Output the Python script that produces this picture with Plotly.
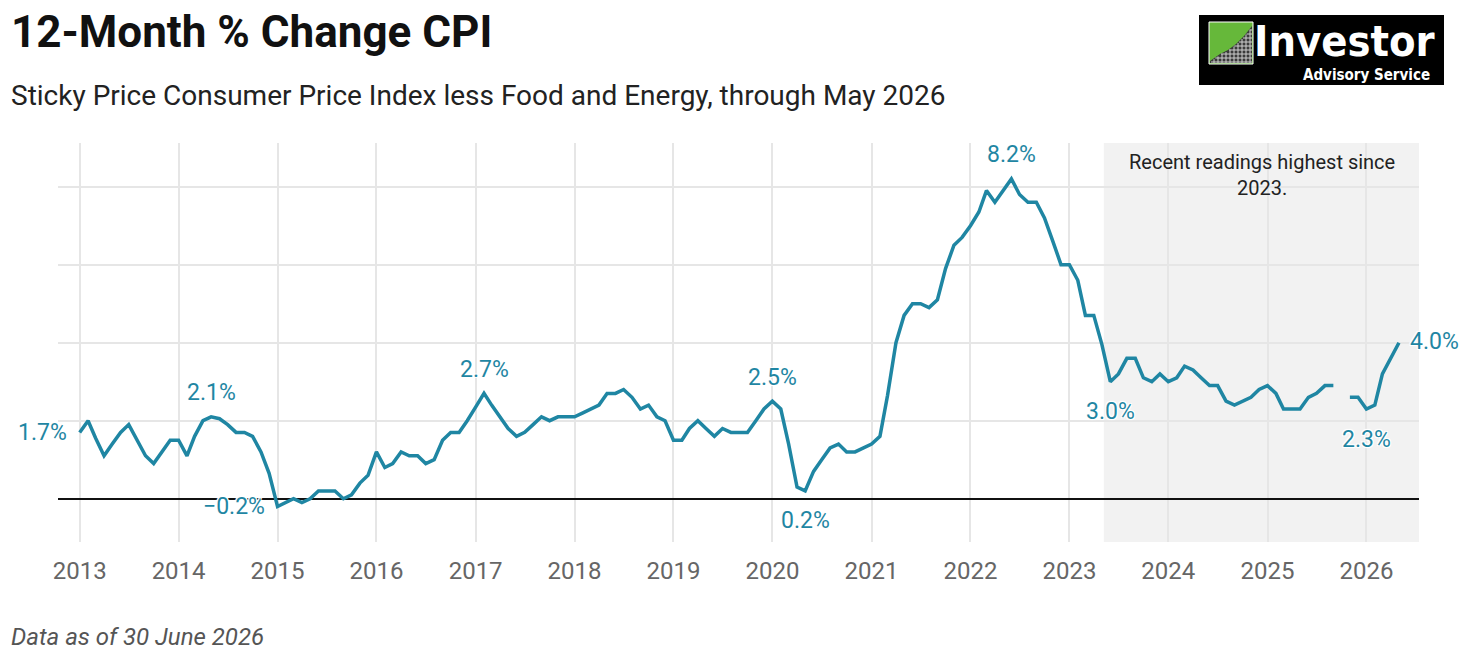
import pandas as pd
import plotly.graph_objects as go

# ---------------- data ----------------
months = pd.date_range("2013-01-01", "2026-05-01", freq="MS").strftime("%Y-%m-%d").tolist()

v2013 = [1.7, 2.0, 1.55, 1.1, 1.4, 1.7, 1.9, 1.5, 1.1, 0.9, 1.2, 1.5]
v2014 = [1.5, 1.1, 1.6, 2.0, 2.1, 2.05, 1.9, 1.7, 1.7, 1.6, 1.2, 0.65]
v2015 = [-0.2, -0.1, 0.0, -0.1, 0.0, 0.2, 0.2, 0.2, 0.0, 0.1, 0.4, 0.6]
v2016 = [1.2, 0.8, 0.9, 1.2, 1.1, 1.1, 0.9, 1.0, 1.5, 1.7, 1.7, 2.0]
v2017 = [2.35, 2.7, 2.4, 2.1, 1.8, 1.6, 1.7, 1.9, 2.1, 2.0, 2.1, 2.1]
v2018 = [2.1, 2.2, 2.3, 2.4, 2.7, 2.7, 2.8, 2.6, 2.3, 2.4, 2.1, 2.0]
v2019 = [1.5, 1.5, 1.8, 2.0, 1.8, 1.6, 1.8, 1.7, 1.7, 1.7, 2.0, 2.3]
v2020 = [2.5, 2.3, 1.4, 0.3, 0.2, 0.7, 1.0, 1.3, 1.4, 1.2, 1.2, 1.3]
v2021 = [1.4, 1.6, 2.65, 4.0, 4.7, 5.0, 5.0, 4.9, 5.1, 5.9, 6.5, 6.7]
v2022 = [7.0, 7.35, 7.9, 7.6, 7.9, 8.2, 7.8, 7.6, 7.6, 7.2, 6.6, 6.0]
v2023 = [6.0, 5.6, 4.7, 4.7, 3.95, 3.0, 3.2, 3.6, 3.6, 3.1, 3.0, 3.2]
v2024 = [3.0, 3.1, 3.4, 3.3, 3.1, 2.9, 2.9, 2.5, 2.4, 2.5, 2.6, 2.8]
v2025 = [2.9, 2.7, 2.3, 2.3, 2.3, 2.6, 2.7, 2.9, 2.9, None, 2.6, 2.6]
v2026 = [2.3, 2.4, 3.2, 3.6, 4.0]

values = (v2013 + v2014 + v2015 + v2016 + v2017 + v2018 + v2019 + v2020
          + v2021 + v2022 + v2023 + v2024 + v2025 + v2026)

label_dates = ["2013-01-01", "2014-05-01", "2015-01-01", "2017-02-01", "2020-01-01",
               "2020-05-01", "2022-06-01", "2023-06-01", "2026-01-01", "2026-05-01"]
label_texts = ["1.7%", "2.1%", "\u22120.2%", "2.7%", "2.5%", "0.2%", "8.2%", "3.0%", "2.3%", "4.0%"]
label_pos = ["left", "above", "left", "above", "above", "below", "above", "below", "below", "right"]

year_ticks = [f"{y}-01-01" for y in range(2013, 2027)]
year_labels = [str(y) for y in range(2013, 2027)]

shade_start = "2023-05-08"
note_text = "Recent readings highest since<br>2023."

# ---------------- layout helpers ----------------
W, H = 1463, 666
ML, MR, MT, MB = 58, 44, 143, 124
PW, PH = W - ML - MR, H - MT - MB


def px(x):
    return (x - ML) / PW


def py(y):
    return (H - MB - y) / PH


LINE = "#1f86a3"
FONT = "Roboto"
halo = "-1px -1px 0 #fff, 1px -1px 0 #fff, -1px 1px 0 #fff, 1px 1px 0 #fff, 0 0 3px #fff"

fig = go.Figure()
fig.add_trace(go.Scatter(
    x=months, y=values, mode="lines",
    line=dict(color=LINE, width=3.5),
    connectgaps=False, hoverinfo="x+y", showlegend=False,
))

annotations = []
val_by_date = dict(zip(months, values))
for d, t, pos in zip(label_dates, label_texts, label_pos):
    a = dict(x=d, y=val_by_date[d], xref="x", yref="y", text=t, showarrow=False,
             font=dict(family=FONT, size=23, color=LINE, shadow=halo))
    if pos == "above":
        a.update(yshift=24, xanchor="center", yanchor="middle")
    elif pos == "below":
        a.update(yshift=-30, xanchor="center", yanchor="middle")
    elif pos == "left":
        a.update(xshift=-11, xanchor="right", yanchor="middle")
    else:
        a.update(xshift=9, yshift=1, xanchor="left", yanchor="middle")
    annotations.append(a)

# note in shaded region
annotations.append(dict(x=px(1262), y=py(175), xref="paper", yref="paper", text=note_text,
                        showarrow=False, xanchor="center", yanchor="middle", align="center",
                        font=dict(family=FONT, size=20, color="#222222")))

# titles
annotations.append(dict(x=px(9), y=py(32), xref="paper", yref="paper",
                        text="12-Month % Change CPI", showarrow=False,
                        xanchor="left", yanchor="middle",
                        font=dict(family=FONT, size=44, color="#111111", weight=700)))
annotations.append(dict(x=px(9), y=py(95), xref="paper", yref="paper",
                        text="Sticky Price Consumer Price Index less Food and Energy, through May 2026",
                        showarrow=False, xanchor="left", yanchor="middle",
                        font=dict(family=FONT, size=28, color="#222222")))
annotations.append(dict(x=px(9), y=py(637), xref="paper", yref="paper",
                        text="Data as of 30 June 2026", showarrow=False,
                        xanchor="left", yanchor="middle",
                        font=dict(family=FONT, size=24, color="#555555", style="italic")))

# logo text
annotations.append(dict(x=px(1344), y=py(41), xref="paper", yref="paper", text="Investor",
                        showarrow=False, xanchor="center", yanchor="middle",
                        font=dict(family="Liberation Sans Narrow, DejaVu Sans Condensed, Roboto",
                                  size=43, color="#ffffff", weight=700)))
annotations.append(dict(x=px(1366), y=py(75), xref="paper", yref="paper", text="Advisory Service",
                        showarrow=False, xanchor="center", yanchor="middle",
                        font=dict(family="Liberation Sans Narrow, DejaVu Sans Condensed, Roboto",
                                  size=15, color="#ffffff", weight=700)))

shapes = [
    dict(type="rect", xref="x", yref="paper", x0=shade_start, x1="2026-07-20", y0=0, y1=1,
         fillcolor="#f2f2f2", line=dict(width=0), layer="below"),
    # logo background
    dict(type="rect", xref="paper", yref="paper", x0=px(1199), x1=px(1444), y0=py(85), y1=py(15),
         fillcolor="#000000", line=dict(width=0), layer="above"),
    dict(type="rect", xref="paper", yref="paper", x0=px(1209), x1=px(1253), y0=py(64), y1=py(22),
         fillcolor="#66b83a", line=dict(color="#ffffff", width=1), layer="above"),
]
# grey graph-paper part of logo icon
bx = [1210, 1220, 1228, 1236, 1244, 1252]
by = [61, 54, 50, 44, 36, 26]
path = "M " + " L ".join(f"{px(x)},{py(y)}" for x, y in zip(bx, by))
path += f" L {px(1252)},{py(63)} L {px(1210)},{py(63)} Z"
shapes.append(dict(type="path", xref="paper", yref="paper", path=path,
                   fillcolor="#3a3a3a", line=dict(width=0), layer="above"))


def boundary_y(x):
    for i in range(len(bx) - 1):
        if bx[i] <= x <= bx[i + 1]:
            t = (x - bx[i]) / (bx[i + 1] - bx[i])
            return by[i] + t * (by[i + 1] - by[i])
    return by[-1]


def boundary_x(y):
    for i in range(len(by) - 1):
        if by[i + 1] <= y <= by[i]:
            t = (by[i] - y) / (by[i] - by[i + 1])
            return bx[i] + t * (bx[i + 1] - bx[i])
    return bx[0]


for gx in range(1214, 1252, 4):
    shapes.append(dict(type="line", xref="paper", yref="paper", x0=px(gx), x1=px(gx),
                       y0=py(boundary_y(gx) + 1), y1=py(63),
                       line=dict(color="#cfcfcf", width=1), layer="above"))
for gy in range(30, 63, 4):
    shapes.append(dict(type="line", xref="paper", yref="paper", x0=px(boundary_x(gy) + 1), x1=px(1252),
                       y0=py(gy), y1=py(gy),
                       line=dict(color="#cfcfcf", width=1), layer="above"))

fig.update_layout(
    width=W, height=H,
    margin=dict(l=ML, r=MR, t=MT, b=MB, pad=0),
    paper_bgcolor="#ffffff", plot_bgcolor="#ffffff",
    font=dict(family=FONT),
    annotations=annotations, shapes=shapes,
    showlegend=False,
)
fig.update_xaxes(
    type="date", range=["2012-10-13", "2026-07-14"],
    tickvals=year_ticks, ticktext=year_labels,
    showgrid=True, gridcolor="#e6e6e6", gridwidth=2,
    ticks="", ticklabelstandoff=12,
    tickfont=dict(family=FONT, size=24, color="#666666"),
    showline=False, zeroline=False, fixedrange=True,
)
fig.update_yaxes(
    range=[-1.11, 9.12], tickvals=[2, 4, 6, 8], showticklabels=False,
    showgrid=True, gridcolor="#e6e6e6", gridwidth=2,
    zeroline=True, zerolinecolor="#111111", zerolinewidth=2,
    showline=False, fixedrange=True,
)

fig.write_html("out.html", config={"displayModeBar": False})
